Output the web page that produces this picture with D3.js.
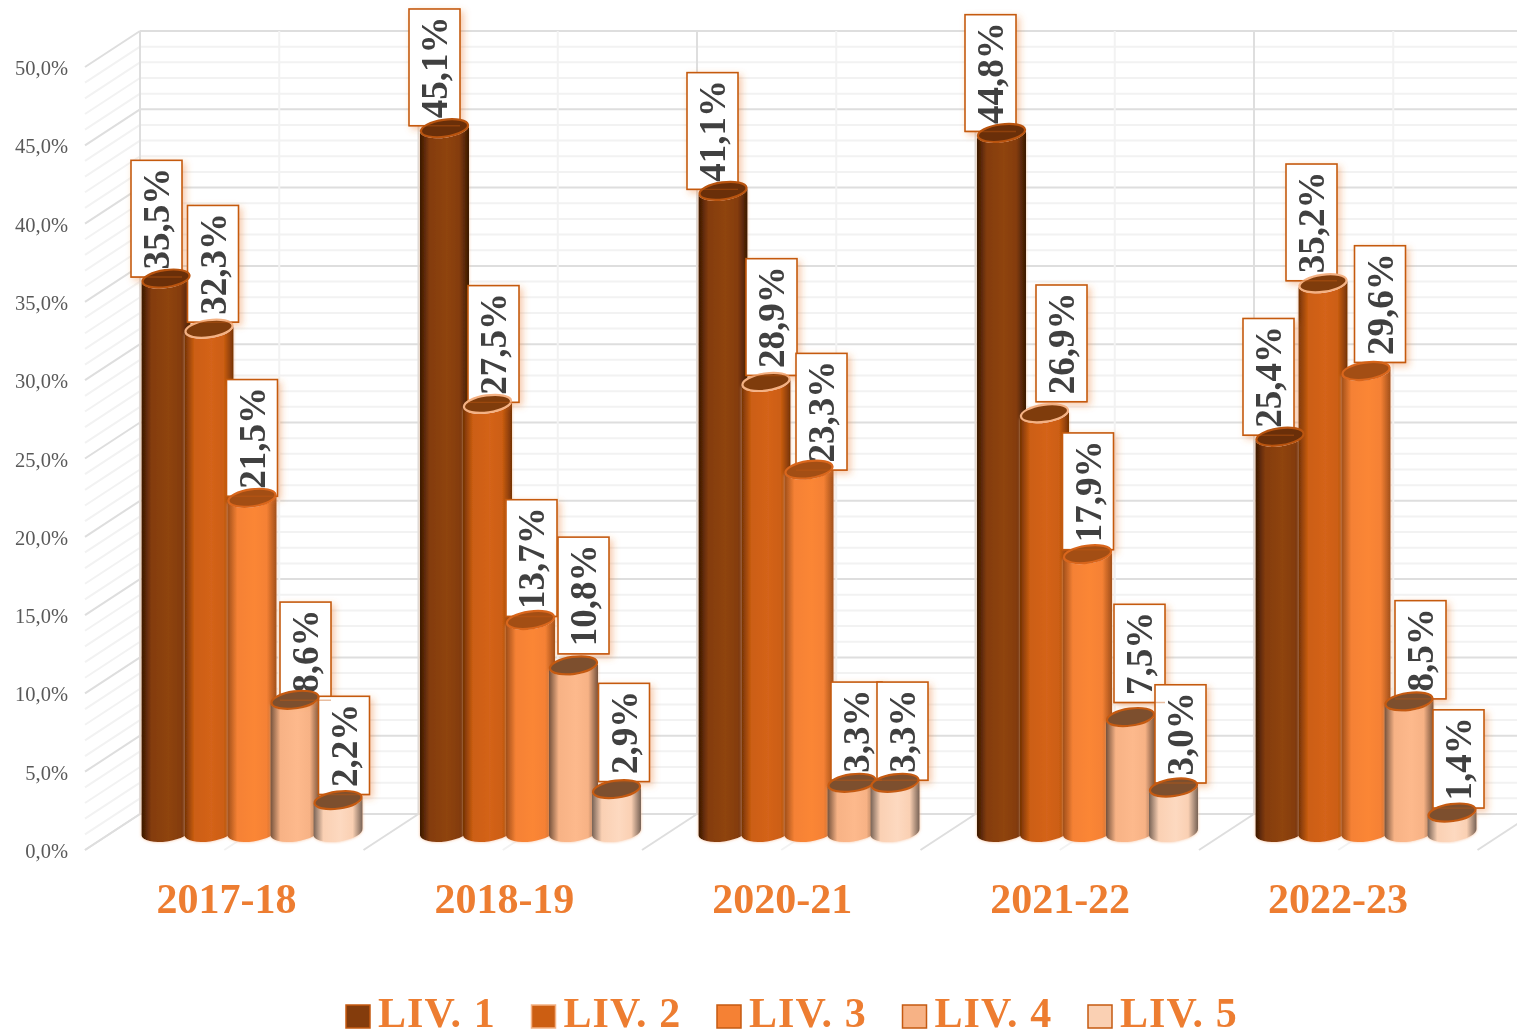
<!DOCTYPE html>
<html><head><meta charset="utf-8">
<script src="https://cdn.jsdelivr.net/npm/d3@7"></script>
<style>
html,body{margin:0;padding:0;background:#fff;overflow:hidden}
svg{display:block;filter:blur(0.6px)}
text{font-family:"Liberation Serif",serif}
</style></head><body>
<svg id="c" width="1517" height="1036"></svg>
<script>
const categories = ["2017-18","2018-19","2020-21","2021-22","2022-23"];
const seriesNames = ["LIV. 1","LIV. 2","LIV. 3","LIV. 4","LIV. 5"];
const liv1 = [35.5,45.1,41.1,44.8,25.4];
const liv2 = [32.3,27.5,28.9,26.9,35.2];
const liv3 = [21.5,13.7,23.3,17.9,29.6];
const liv4 = [8.6,10.8,3.3,7.5,8.5];
const liv5 = [2.2,2.9,3.3,3.0,1.4];
const tickValues = [0,5,10,15,20,25,30,35,40,45,50];
const minorTicks = d3.range(0,51);
// label nudges, by category then series
const labelDx = [[-9.5,4,0,10.5,6],[-10,6,1,10,7.5],[-10.5,5.5,12.5,4.5,7.5],[-11,17,0.5,9,7],[-11.5,-11.5,14,11.5,6.5]];
const labelDy = [[0,-5,0,2,-4],[-1,0,-2,-10,-6],[0,-5,2,-1,-1],[0,-10,-3,-13,-3],[0,-1,-7,-1,-3]];

const fills = ["#843c0c","#cc5e12","#f58134","#f7b285","#fad0b3"];
const edges = ["#3a1803","#743204","#a04f1a","#75523c","#776255"];
const lights = ["#8f4410","#d4631a","#fb8636","#fdb98c","#fdd9c0"];
const caps = ["#6a2f09","#7f3c0c","#a34e14","#7d4f2e","#7d4f2e"];
const rims = ["#b9540f","#f4b183","#d9661c","#c55a11","#c55a11"];
const allSeries = [liv1,liv2,liv3,liv4,liv5];

const W=1517,H=1036, step=278.5, depthX=55, depthY=-36, capDrop=1.5;
const svg=d3.select("#c");
const x=d3.scaleBand().domain(categories).range([85,85+step*5]).padding(0);
const catX=d3.scalePoint().domain(categories).range([226.5,1338]);
const yFront=d3.scaleLinear().domain([0,50]).range([851,68]);
const yBack=d3.scaleLinear().domain([0,50]).range([850+depthY,31]);
const yBar=d3.scaleLinear().domain([0,50]).range([833,50]);
const inner=d3.scalePoint().domain(seriesNames).range([81,253]);

const defs=svg.append("defs");
seriesNames.forEach((s,i)=>{
  const g=defs.append("linearGradient").attr("id","g"+i);
  [[0,edges[i]],[.2,fills[i]],[.55,lights[i]],[.8,fills[i]],[1,edges[i]]].forEach(d=>g.append("stop").attr("offset",d[0]).attr("stop-color",d[1]));
});
const glow=defs.append("filter").attr("id","glow").attr("x","-30%").attr("y","-30%").attr("width","170%").attr("height","170%");
glow.append("feDropShadow").attr("dx",3).attr("dy",3).attr("stdDeviation",3.5).attr("flood-color","#ed7d31").attr("flood-opacity",.4);
const halo=defs.append("filter").attr("id","halo").attr("x","-20%").attr("y","-5%").attr("width","140%").attr("height","110%");
halo.append("feDropShadow").attr("dx",0).attr("dy",0).attr("stdDeviation",1.5).attr("flood-color","#f4b183").attr("flood-opacity",.8);

// walls and floor
const grid=svg.append("g").attr("fill","none");
const isMajor=v=>v%5===0;
const majorCol="#dedede", minorCol="#f2f2f2";
const lineCol=v=>isMajor(v)?majorCol:minorCol;
grid.selectAll("line.b").data(minorTicks).join("line").attr("class","b")
  .attr("x1",85+depthX).attr("x2",W).attr("y1",yBack).attr("y2",yBack)
  .attr("stroke",lineCol).attr("stroke-width",2);
grid.selectAll("line.l").data(minorTicks).join("line").attr("class","l")
  .attr("x1",85).attr("x2",85+depthX).attr("y1",d=>yFront(d)-1).attr("y2",yBack)
  .attr("stroke",lineCol).attr("stroke-width",2);
const vertical=d3.range(0,11);
grid.selectAll("line.v").data(vertical).join("line").attr("class","v")
  .attr("x1",d=>85+depthX+d*step/2).attr("x2",d=>85+depthX+d*step/2)
  .attr("y1",yBack(0)).attr("y2",yBack(50))
  .attr("stroke",d=>d%2===0?majorCol:minorCol).attr("stroke-width",2);
grid.selectAll("line.f").data(vertical).join("line").attr("class","f")
  .attr("x1",d=>85+d*step/2).attr("x2",d=>85+depthX+d*step/2)
  .attr("y1",yFront(0)-1).attr("y2",yBack(0))
  .attr("stroke",d=>d%2===0?majorCol:minorCol).attr("stroke-width",2);

// value axis
const yAxis=d3.axisLeft(yFront).tickValues(tickValues).tickSize(0).tickPadding(0)
  .tickFormat(v=>v.toFixed(1).replace(".",",")+"%");
const ag=svg.append("g").attr("transform","translate(68,0)").call(yAxis);
ag.select(".domain").remove();
ag.selectAll("text").attr("font-size",20.5).attr("fill","#595959").style("font-family",'"Liberation Serif",serif');

// category labels
svg.selectAll("text.cat").data(categories).join("text").attr("class","cat")
  .attr("x",d=>catX(d)).attr("y",913).attr("text-anchor","middle")
  .attr("font-size",42).attr("font-weight","bold").attr("fill","#ed7d31").text(d=>d);

// records
const rec=[];
categories.forEach((c,ci)=>seriesNames.forEach((s,si)=>rec.push({c,ci,s,si,v:allSeries[si][ci]})));
const barW=49.5, ry=9.5, tilt=-8;
const cx=d=>x(d.c)+inner(d.s);
const topY=d=>yBar(d.v)+capDrop;
const ends=(d,y)=>{const a=tilt*Math.PI/180,r=barW/2;return [cx(d)-r*Math.cos(a),y-r*Math.sin(a),cx(d)+r*Math.cos(a),y+r*Math.sin(a)];};
const body=d=>{
  const t=ends(d,topY(d)), b=ends(d,yBar(0)-1);
  return `M${t[0]},${t[1]}L${b[0]},${b[1]}A${barW/2},${ry} ${tilt} 0 0 ${b[2]},${b[3]}L${t[2]},${t[3]}A${barW/2},${ry} ${tilt} 0 1 ${t[0]},${t[1]}Z`;
};
svg.append("g").selectAll("path").data(rec).join("path").attr("d",body)
  .attr("fill",d=>`url(#g${d.si})`).attr("filter","url(#halo)");

// label boxes
const fontSize=37, pad=15, boxW=51;
const fmt=v=>v.toFixed(1).replace(".",",")+"%";
const lcx=d=>cx(d)+labelDx[d.ci][d.si];
const lbot=d=>yBar(d.v)+labelDy[d.ci][d.si];
const lb=svg.append("g").selectAll("g").data(rec).join("g");
const boxes=lb.append("rect");
const labels=lb.append("text").attr("font-size",fontSize).attr("font-weight","bold").attr("fill","#404040")
  .attr("text-anchor","middle").text(d=>fmt(d.v));
labels.each(function(d){d.len=this.getComputedTextLength()+pad;});
boxes.attr("x",d=>lcx(d)-boxW/2).attr("width",boxW)
  .attr("y",d=>lbot(d)-d.len).attr("height",d=>d.len)
  .attr("fill","#fff").attr("stroke","#c55a11").attr("stroke-width",1.6).attr("filter","url(#glow)");
labels.attr("transform",d=>`translate(${lcx(d)+12.5},${lbot(d)-d.len/2}) rotate(-90)`);

// caps above the label text, faint box bottom edges above caps
svg.append("g").selectAll("ellipse").data(rec).join("ellipse")
  .attr("cx",cx).attr("cy",topY).attr("rx",barW/2-1).attr("ry",ry-1)
  .attr("transform",d=>`rotate(${tilt} ${cx(d)} ${topY(d)})`)
  .attr("fill",d=>caps[d.si]).attr("stroke",d=>rims[d.si]).attr("stroke-width",2.2);
svg.append("g").selectAll("line").data(rec).join("line")
  .attr("x1",d=>lcx(d)-boxW/2).attr("x2",d=>lcx(d)+boxW/2)
  .attr("y1",lbot).attr("y2",lbot)
  .attr("stroke","#c55a11").attr("stroke-width",1.4).attr("stroke-opacity",.4);

// legend
const legendX=d3.scalePoint().domain(seriesNames).range([346,346+185.5*4]);
const lg=svg.append("g").selectAll("g").data(seriesNames).join("g").attr("transform",d=>`translate(${legendX(d)},0)`);
lg.append("rect").attr("y",1005).attr("width",24).attr("height",23)
  .attr("fill",(d,i)=>fills[i]).attr("stroke",(d,i)=>i===1?"#f4b183":"#c55a11").attr("stroke-width",1.5);
lg.append("text").attr("x",32).attr("y",1027).attr("font-size",42).attr("font-weight","bold")
  .attr("letter-spacing",1.1).attr("fill","#ed7d31").text(d=>d);
</script>
</body></html>
